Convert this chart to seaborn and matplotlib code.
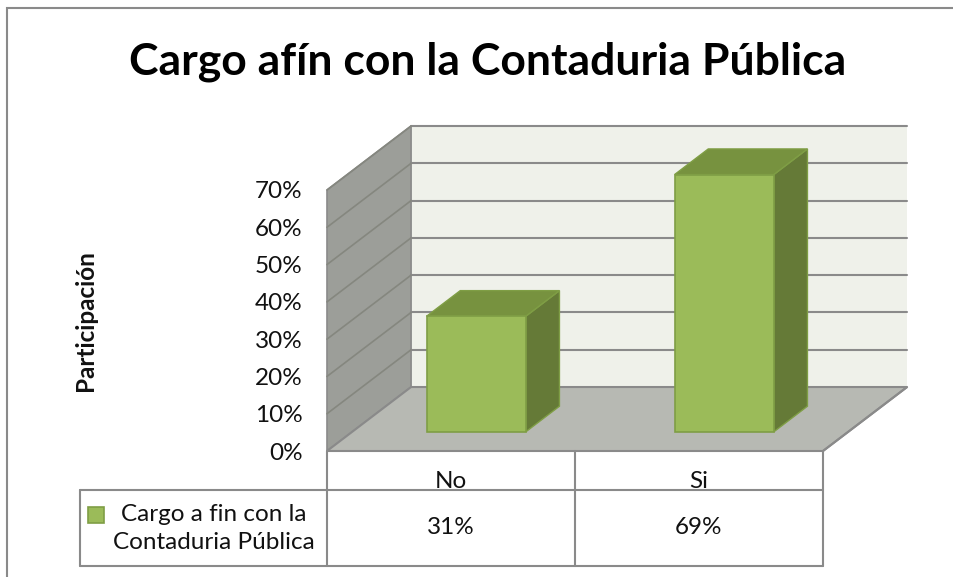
import numpy as np
import matplotlib
matplotlib.use("Agg")
import matplotlib.pyplot as plt
import seaborn as sns
from matplotlib.patches import Polygon, Rectangle
from matplotlib.lines import Line2D
from matplotlib.transforms import Affine2D, blended_transform_factory

# data
categorias = ["No", "Si"]
participacion = [31, 69]
ticks_y = [0, 10, 20, 30, 40, 50, 60, 70]
titulo = "Cargo afín con la Contaduria Pública"
serie = "Cargo a fin con la\nContaduria Pública"

sns.set_style("white")
plt.rcParams["font.family"] = ["Lato", "DejaVu Sans"]

# colours
c_front = "#9BBB59"
c_edge = "#7F9E45"
c_top = "#77923F"
c_side = "#657A37"
c_back = "#EFF1EA"
c_left = "#9C9E99"
c_floor = "#B7B9B3"
c_grid = "#8A8A8A"

fig = plt.figure(figsize=(9.54, 5.77), dpi=100)
ax = fig.add_axes([327 / 954, (577 - 451) / 577, 496 / 954, 261 / 577])

sns.barplot(x=categorias, y=participacion, width=0.4, color=c_front,
            saturation=1, edgecolor=c_edge, linewidth=1.2, ax=ax, zorder=5)

ymax = ticks_y[-1]
ax.set_xlim(-0.5, 1.5)
ax.set_ylim(0, ymax)

# oblique depth vector (data units) and bar depth (gap depth 150%)
DX, DY = 0.339, 17.16
f0, f1 = 0.3, 0.7
xl, xr = -0.5, 1.5

# walls and floor
ax.add_patch(Polygon([(xl + DX, DY), (xr + DX, DY), (xr + DX, ymax + DY), (xl + DX, ymax + DY)],
                     closed=True, facecolor=c_back, edgecolor="none", zorder=0, clip_on=False))
ax.add_patch(Polygon([(xl, 0), (xl + DX, DY), (xl + DX, ymax + DY), (xl, ymax)],
                     closed=True, facecolor=c_left, edgecolor=c_grid, lw=1.2, zorder=0, clip_on=False))
ax.add_patch(Polygon([(xl, 0), (xr, 0), (xr + DX, DY), (xl + DX, DY)],
                     closed=True, facecolor=c_floor, edgecolor=c_grid, lw=1.5, zorder=0.5, clip_on=False))
for t in ticks_y[1:]:
    ax.add_line(Line2D([xl + DX, xr + DX], [t + DY, t + DY], color=c_grid, lw=1.5, zorder=1, clip_on=False))
    ax.add_line(Line2D([xl, xl + DX], [t, t + DY], color="#85877F", lw=1.2, zorder=1, clip_on=False))

# push bars back to their depth and add side/top faces
shift = Affine2D().translate(f0 * DX, f0 * DY) + ax.transData
d = f1 - f0
for p in ax.patches[:]:
    if not isinstance(p, Rectangle):
        continue
    x, w, h = p.get_x(), p.get_width(), p.get_height()
    p.set_transform(shift)
    p.set_clip_on(False)
    side = Polygon([(x + w, 0), (x + w + d * DX, d * DY), (x + w + d * DX, h + d * DY), (x + w, h)],
                   closed=True, facecolor=c_side, edgecolor=c_edge, lw=1.0, zorder=4,
                   transform=shift, clip_on=False)
    top = Polygon([(x, h), (x + w, h), (x + w + d * DX, h + d * DY), (x + d * DX, h + d * DY)],
                  closed=True, facecolor=c_top, edgecolor=c_edge, lw=1.0, zorder=4,
                  transform=shift, clip_on=False)
    ax.add_patch(side)
    ax.add_patch(top)

# axes styling
for s in ax.spines.values():
    s.set_visible(False)
ax.set_yticks(ticks_y, labels=[f"{t}%" for t in ticks_y])
ax.tick_params(axis="y", length=0, pad=17.5, labelsize=17.5, labelcolor="#111111")
ax.set_xticks([])
ax.set_xlabel("")
ax.set_ylabel("Participación", fontsize=17.5, fontweight="bold", color="#111111")
ax.yaxis.set_label_coords(-0.464, 0.5)

# data table under the chart
tb = blended_transform_factory(ax.transData, ax.transAxes)
y1, y2 = -0.1494, -0.4406
xt = -1.496
lk = dict(color=c_grid, lw=1.5, transform=tb, clip_on=False, zorder=2)
ax.add_line(Line2D([xt, xr], [y1, y1], **lk))
ax.add_line(Line2D([xt, xr], [y2, y2], **lk))
ax.add_line(Line2D([xt, xt], [y1, y2], **lk))
for xv in [xl, 0.5, xr]:
    ax.add_line(Line2D([xv, xv], [0, y2], **lk))
ax.add_line(Line2D([xr, xr + DX], [0, DY / ymax], color=c_grid, lw=1.5, transform=tb,
                   clip_on=False, zorder=2))

for i, (c, v) in enumerate(zip(categorias, participacion)):
    ax.text(i, -0.118, c, transform=tb, ha="center", va="center", fontsize=17.5, color="#111111")
    ax.text(i, -0.295, f"{v}%", transform=tb, ha="center", va="center", fontsize=17.5, color="#111111")

ax.text(-0.955, -0.297, serie, transform=tb, ha="center", va="center", multialignment="center",
        fontsize=17.5, linespacing=1.45, color="#111111")
ax.plot([-1.43], [-0.2435], marker="s", markersize=11.5, color=c_front, markeredgecolor=c_edge,
        markeredgewidth=1.2, transform=tb, clip_on=False, linestyle="none")

# title and outer border
fig.text(0.511, 1 - 75 / 577, titulo, ha="center", va="baseline", fontsize=32,
         fontweight="bold", color="#000000")
fig.patches.append(Rectangle((7 / 954, -0.1), 1.2, 1 - 8 / 577 + 0.1, transform=fig.transFigure,
                             fill=False, edgecolor="#8A8A8A", lw=1.5))

fig.savefig("out.png", dpi=100, facecolor="white")
